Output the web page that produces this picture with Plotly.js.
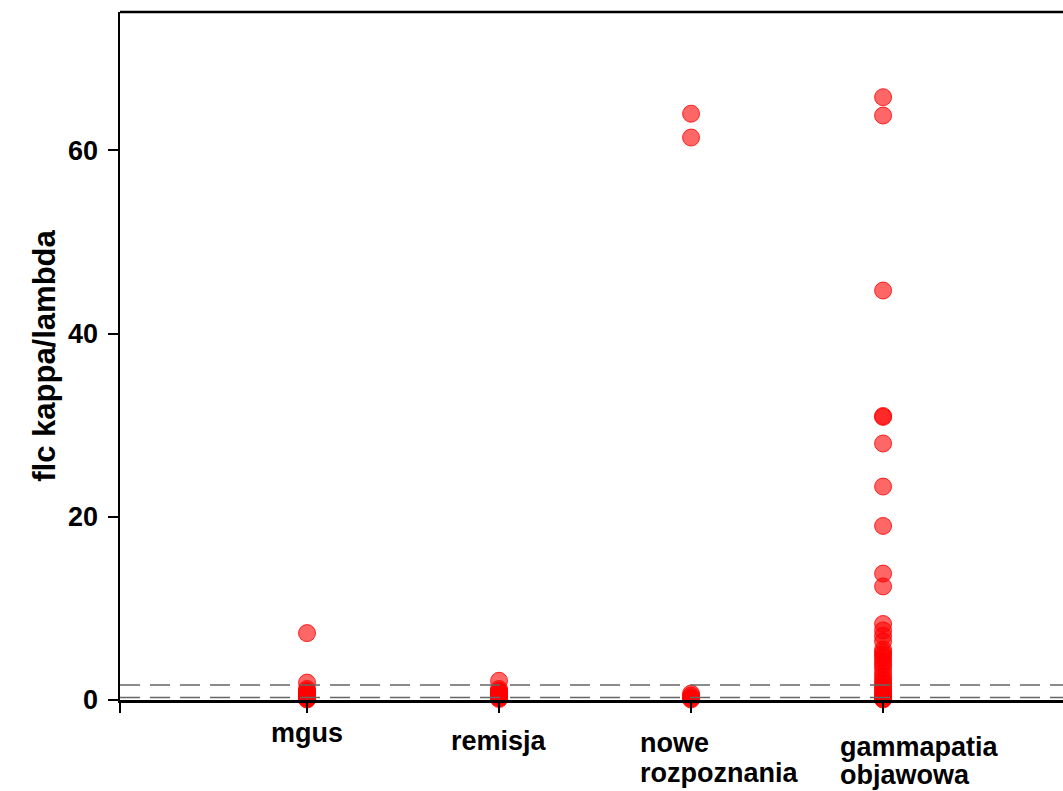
<!DOCTYPE html>
<html>
<head>
<meta charset="utf-8">
<script src="https://cdn.plot.ly/plotly-3.0.1.min.js"></script>
<style>html,body{margin:0;padding:0;background:#fff;overflow:hidden}</style>
</head>
<body>
<div id="chart" style="width:1063px;height:791px"></div>
<script>
const categories = ["mgus", "remisja", "nowe<br>rozpoznania", "gammapatia<br>objawowa"];
const mgus = [0.05, 0.1, 0.2, 0.3, 0.4, 0.5, 0.6, 0.7, 0.8, 0.9, 1.0, 1.2, 1.9, 7.3];
const remisja = [0.1, 0.2, 0.3, 0.4, 0.5, 0.6, 0.7, 0.8, 0.9, 1.0, 1.2, 2.1];
const noweRozpoznania = [0.05, 0.15, 0.3, 0.5, 0.7, 61.4, 64.0];
const gammapatia = [0.05, 0.1, 0.2, 0.4, 0.6, 0.8, 1.0, 1.3, 1.6, 1.9, 2.2, 2.6, 3.0, 3.5, 3.9, 4.2, 4.6, 4.9, 5.2, 5.5, 6.4, 7.0, 7.6, 8.3, 12.4, 13.8, 19.0, 23.3, 28.0, 30.9, 31.0, 44.7, 63.8, 65.8];
const normalLow = 0.26;
const normalHigh = 1.65;
const yTicks = [0, 20, 40, 60];

const groups = [mgus, remisja, noweRozpoznania, gammapatia];
const traces = groups.map((vals, i) => ({
  type: 'scatter',
  mode: 'markers',
  x: vals.map(() => i + 1),
  y: vals,
  cliponaxis: false,
  showlegend: false,
  hoverinfo: 'y',
  marker: {
    symbol: 'circle',
    size: 17,
    color: 'rgba(255,0,0,0.6)',
    line: {color: 'rgba(255,0,0,0.8)', width: 1}
  }
}));

const xr0 = 0.026, xr1 = 4.937;
const FAM = '"Liberation Sans", Arial, sans-serif';
const labelFont = {family: FAM, size: 27, color: '#000', weight: 'bold'};

// per-category label placement: anchor, x offset (axis units), vertical shift of each line (px)
const labelPos = [
  {xanchor: 'center', dx: 0, shifts: [-33]},
  {xanchor: 'center', dx: 0, shifts: [-41]},
  {xanchor: 'left', dx: -0.276, shifts: [-43, -73]},
  {xanchor: 'left', dx: -0.234, shifts: [-47, -75]}
];

const annotations = [];
categories.forEach((c, i) => {
  c.split('<br>').forEach((line, j) => {
    annotations.push({
      x: i + 1 + labelPos[i].dx,
      y: 0,
      xref: 'x',
      yref: 'paper',
      text: line,
      showarrow: false,
      xanchor: labelPos[i].xanchor,
      yanchor: 'middle',
      align: 'left',
      yshift: labelPos[i].shifts[j],
      font: labelFont
    });
  });
});

const shapes = [
  {type: 'line', xref: 'paper', yref: 'y', x0: 0, x1: 1, y0: normalHigh, y1: normalHigh, layer: 'above',
   line: {color: '#666', width: 1.5, dash: '20px,10px'}},
  {type: 'line', xref: 'paper', yref: 'y', x0: 0, x1: 1, y0: normalLow, y1: normalLow, layer: 'above',
   line: {color: '#666', width: 1.5, dash: '20px,10px'}},
  {type: 'line', xref: 'paper', yref: 'paper', x0: 0, x1: 1, y0: 1, y1: 1, layer: 'above',
   line: {color: '#000', width: 2.5}}
];

const layout = {
  width: 1063,
  height: 791,
  margin: {l: 120, r: 0, t: 12, b: 91},
  paper_bgcolor: '#fff',
  plot_bgcolor: '#fff',
  showlegend: false,
  font: {family: FAM, color: '#000'},
  xaxis: {
    range: [xr0, xr1],
    tickvals: [xr0, 1, 2, 3, 4],
    ticktext: ['', '', '', '', ''],
    ticks: 'outside',
    ticklen: 10,
    tickwidth: 2,
    tickcolor: '#000',
    showline: true,
    linecolor: '#000',
    linewidth: 2.5,
    showgrid: false,
    zeroline: false,
    fixedrange: true
  },
  yaxis: {
    range: [0, 75.1],
    tickvals: yTicks,
    ticktext: yTicks.map(String),
    ticks: 'outside',
    ticklen: 10,
    tickwidth: 2,
    tickcolor: '#000',
    ticklabelstandoff: 4,
    showline: true,
    linecolor: '#000',
    linewidth: 2.5,
    showgrid: false,
    zeroline: false,
    tickfont: {family: FAM, size: 27, color: '#000', weight: 'bold'},
    title: {text: 'flc kappa/lambda', standoff: 3,
            font: {family: FAM, size: 31, color: '#000', weight: 'bold'}},
    fixedrange: true
  },
  shapes: shapes,
  annotations: annotations
};

Plotly.newPlot('chart', traces, layout, {displayModeBar: false, staticPlot: true});
</script>
</body>
</html>
